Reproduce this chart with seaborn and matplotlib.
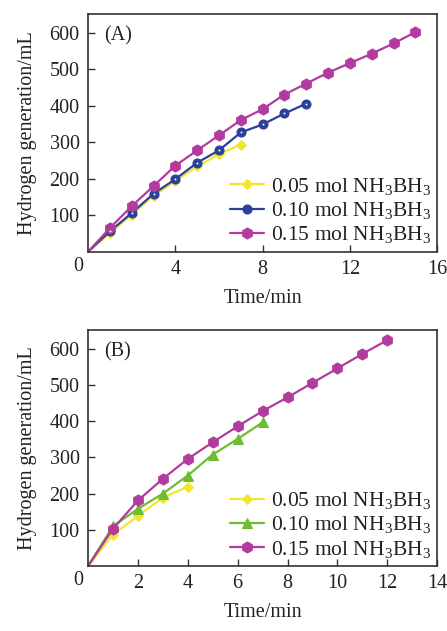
import numpy as np
import pandas as pd
import matplotlib
matplotlib.use("Agg")
import matplotlib.pyplot as plt
import seaborn as sns

# Panel A data
tA_05 = [0, 1, 2, 3, 4, 5, 6, 7]
vA_05 = [0, 51, 102, 153, 194, 234, 267, 294]
tA_10 = [0, 1, 2, 3, 4, 5, 6, 7, 8, 9, 10]
vA_10 = [0, 56, 106, 159, 199, 244, 278, 327, 349, 379, 406]
tA_15 = [0, 1, 2, 3, 4, 5, 6, 7, 8, 9, 10, 11, 12, 13, 14, 15]
vA_15 = [0, 65, 125, 180, 236, 278, 319, 361, 391, 431, 461, 491, 517, 543, 571, 602]

# Panel B data
tB_05 = [0, 1, 2, 3, 4]
vB_05 = [0, 87, 138, 189, 219]
tB_10 = [0, 1, 2, 3, 4, 5, 6, 7]
vB_10 = [0, 110, 158, 200, 250, 308, 351, 397]
tB_15 = [0, 1, 2, 3, 4, 5, 6, 7, 8, 9, 10, 11, 12]
vB_15 = [0, 103, 181, 241, 296, 342, 386, 428, 466, 506, 546, 586, 624]

labels = ["0.05 mol NH$_3$BH$_3$", "0.10 mol NH$_3$BH$_3$", "0.15 mol NH$_3$BH$_3$"]
yticks = [100, 200, 300, 400, 500, 600]
xticksA = [4, 8, 12, 16]
xticksB = [2, 4, 6, 8, 10, 12, 14]

sns.set_theme(style="ticks")
plt.rcParams['font.family'] = ['Liberation Serif', 'DejaVu Serif']
plt.rcParams['mathtext.fontset'] = 'custom'
plt.rcParams['mathtext.rm'] = 'Liberation Serif'
plt.rcParams['mathtext.it'] = 'Liberation Serif:italic'
plt.rcParams['mathtext.bf'] = 'Liberation Serif:bold'

YEL = "#f2e62e"
BLU = "#2c3f9a"
MAG = "#b23c9e"
GRN = "#6cbd2f"
SPINE = "#3a3030"
TXT = "#222222"
FS = 14.5

fig = plt.figure(figsize=(4.47, 6.31), dpi=100)
axA = fig.add_axes([0.197, 0.601, 0.781, 0.377])
axB = fig.add_axes([0.197, 0.103, 0.781, 0.374])

def series(ax, t, v, color, marker, ms, label):
    sns.lineplot(x=t, y=v, ax=ax, color=color, marker=marker, markersize=ms,
                 markeredgecolor=color, markerfacecolor=color, linewidth=1.6,
                 markevery=list(range(1, len(t))), label=label)

# Panel A
series(axA, tA_05, vA_05, YEL, 'D', 5.5, labels[0])
series(axA, tA_10, vA_10, BLU, 'o', 6.5, labels[1])
axA.plot(tA_10[1:], vA_10[1:], linestyle='none', marker='o', markersize=1.4,
         markeredgewidth=0, color='white', zorder=5)
series(axA, tA_15, vA_15, MAG, 'h', 8, labels[2])

# Panel B
series(axB, tB_05, vB_05, YEL, 'D', 5.5, labels[0])
series(axB, tB_10, vB_10, GRN, '^', 7, labels[1])
series(axB, tB_15, vB_15, MAG, 'h', 8, labels[2])

for ax, xmax, xt, tag in [(axA, 16, xticksA, "(A)"), (axB, 14, xticksB, "(B)")]:
    ax.set_xlim(0, xmax)
    ax.set_ylim(0, 652)
    ax.set_xticks(xt)
    ax.set_xticklabels([str(x) for x in xt])
    ax.set_yticks(yticks)
    ax.set_yticklabels([str(y) for y in yticks])
    ax.tick_params(direction='in', length=5, width=1, colors=SPINE,
                   labelcolor=TXT, labelsize=FS, pad=6)
    for s in ax.spines.values():
        s.set_color(SPINE)
        s.set_linewidth(1.2)
    ax.text(-0.2, -14, "0", ha='right', va='top', fontsize=FS, color=TXT)
    ax.text(0.045, 0.95, tag, transform=ax.transAxes, ha='left', va='top',
            fontsize=FS, color=TXT)
    ax.set_xlabel("Time/min", fontsize=FS, color=TXT, labelpad=7)
    ax.set_ylabel("Hydrogen generation/mL", fontsize=FS, color=TXT, labelpad=9)
    leg = ax.legend(loc='lower right', frameon=False, fontsize=15.5,
                    handlelength=1.6, handletextpad=0.3, labelspacing=0.15,
                    borderaxespad=0.1, borderpad=0.2)
    for txt in leg.get_texts():
        txt.set_color(TXT)

fig.savefig("out.png", dpi=100)
